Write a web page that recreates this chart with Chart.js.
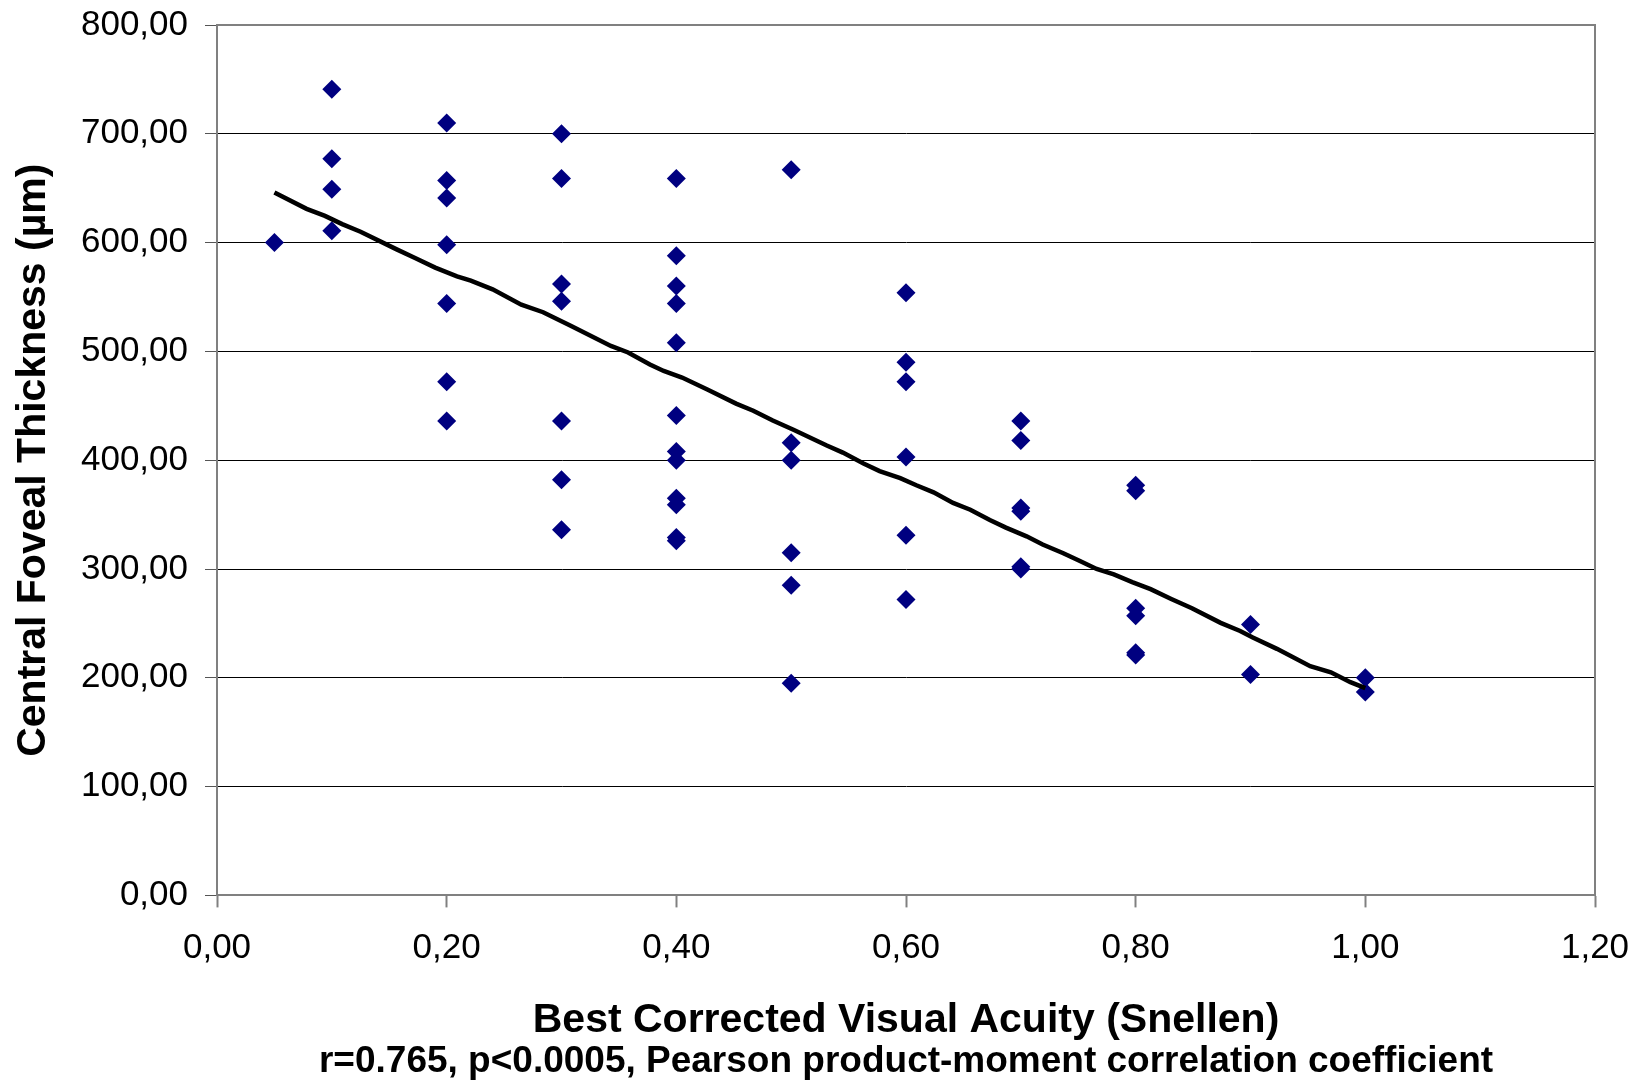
<!DOCTYPE html>
<html lang="en">
<head>
    <meta charset="UTF-8">
    <title>Central Foveal Thickness vs Best Corrected Visual Acuity</title>
    <style>
        body {
            margin: 0;
            background-color: #fff;
        }

        #wrap {
            width: 1646px;
            height: 1084px;
        }
    </style>
</head>
<body>
    <div id="wrap">
        <canvas id="cftChart" width="1646" height="1084"></canvas>
    </div>

    <script src="https://cdn.jsdelivr.net/npm/chart.js"></script>
    <script>
        // Best corrected visual acuity (Snellen, decimal) per eye
        const bcva = [
            0.05,
            0.1, 0.1, 0.1, 0.1,
            0.2, 0.2, 0.2, 0.2, 0.2, 0.2, 0.2,
            0.3, 0.3, 0.3, 0.3, 0.3, 0.3, 0.3,
            0.4, 0.4, 0.4, 0.4, 0.4, 0.4, 0.4, 0.4, 0.4, 0.4, 0.4, 0.4,
            0.5, 0.5, 0.5, 0.5, 0.5, 0.5,
            0.6, 0.6, 0.6, 0.6, 0.6, 0.6,
            0.7, 0.7, 0.7, 0.7, 0.7, 0.7,
            0.8, 0.8, 0.8, 0.8, 0.8, 0.8,
            0.9, 0.9,
            1.0, 1.0
        ];

        // Central foveal thickness (µm) per eye, same order
        const cft = [
            600,
            741, 677, 649, 611,
            710, 657, 641, 598, 544, 472, 436,
            700, 659, 562, 546, 436, 382, 336,
            659, 588, 560, 544, 508, 441, 408, 400, 365, 359, 329, 326,
            667, 416, 400, 315, 285, 195,
            554, 490, 472, 403, 331, 272,
            436, 418, 356, 353, 302, 300,
            377, 372, 264, 257, 223, 221,
            249, 203,
            200, 187
        ];

        // Trend line
        const trendX = [
            0.05, 0.078, 0.094, 0.109, 0.125, 0.156, 0.172, 0.19, 0.209, 0.221,
            0.24, 0.265, 0.284, 0.308, 0.343, 0.358, 0.377, 0.389, 0.405, 0.427,
            0.452, 0.467, 0.484, 0.502, 0.531, 0.545, 0.563, 0.577, 0.595, 0.609,
            0.624, 0.641, 0.656, 0.673, 0.687, 0.705, 0.719, 0.737, 0.751, 0.766,
            0.781, 0.797, 0.813, 0.831, 0.849, 0.874, 0.891, 0.902, 0.923, 0.952,
            0.97, 0.987, 1.0
        ];
        const trendY = [
            646, 631, 624.5, 617, 610, 594, 586, 577, 569, 565,
            557, 543, 536, 523.5, 505, 499, 488, 482, 476, 465,
            452, 445.5, 436.5, 428, 413.5, 407, 397, 390, 383.5, 377,
            370.5, 360.7, 354.5, 345, 338, 330, 322.5, 314.5, 307.5, 300,
            295, 288, 281.5, 272.5, 264, 250.5, 243, 237, 226.6, 210.7,
            205, 196, 190.5
        ];

        const xTickLabels = ['0,00', '0,20', '0,40', '0,60', '0,80', '1,00', '1,20'];
        const yTickLabels = ['0,00', '100,00', '200,00', '300,00', '400,00',
                             '500,00', '600,00', '700,00', '800,00'];

        const FONT = "'Liberation Sans', Arial, sans-serif";

        // gray frame on top and right of the plot area
        const framePlugin = {
            id: 'frame',
            beforeDatasetsDraw(chart) {
                const { ctx, chartArea: a } = chart;
                ctx.save();
                ctx.strokeStyle = '#808080';
                ctx.lineWidth = 2;
                ctx.beginPath();
                ctx.moveTo(a.left, a.top);
                ctx.lineTo(a.right, a.top);
                ctx.lineTo(a.right, a.bottom);
                ctx.stroke();
                ctx.restore();
            }
        };

        const ctx = document.getElementById('cftChart').getContext('2d');
        new Chart(ctx, {
            type: 'scatter',
            data: {
                datasets: [
                    {
                        label: 'CFT',
                        data: bcva.map((x, i) => ({ x: x, y: cft[i] })),
                        pointStyle: 'rectRot',
                        pointRadius: 9.5,
                        backgroundColor: '#000080',
                        borderWidth: 0,
                        order: 2
                    },
                    {
                        label: 'Trend',
                        type: 'line',
                        data: trendX.map((x, i) => ({ x: x, y: trendY[i] })),
                        borderColor: '#000',
                        borderWidth: 4.5,
                        pointRadius: 0,
                        fill: false,
                        tension: 0,
                        order: 1
                    }
                ]
            },
            options: {
                responsive: false,
                animation: false,
                layout: {
                    padding: { top: 25, right: 51, left: 0, bottom: 0 }
                },
                plugins: {
                    legend: { display: false },
                    tooltip: { enabled: false },
                    title: {
                        display: true,
                        position: 'bottom',
                        fullSize: false,
                        text: 'r=0.765, p<0.0005, Pearson product-moment correlation coefficient',
                        color: '#000',
                        font: { family: FONT, size: 37, weight: 'bold', lineHeight: 1.2 },
                        padding: { top: 0, bottom: 0 }
                    }
                },
                scales: {
                    x: {
                        type: 'linear',
                        min: 0,
                        max: 1.2,
                        afterFit(scale) {
                            scale.height = 144.2;
                            scale.paddingLeft = 0;
                            scale.paddingRight = 0;
                        },
                        ticks: {
                            stepSize: 0.2,
                            padding: 20,
                            color: '#000',
                            font: { family: FONT, size: 35 },
                            callback: (v, i) => xTickLabels[i]
                        },
                        grid: {
                            drawOnChartArea: false,
                            drawTicks: true,
                            tickLength: 12,
                            tickColor: '#808080',
                            tickWidth: 2
                        },
                        border: { color: '#808080', width: 2 },
                        title: {
                            display: true,
                            text: 'Best Corrected Visual Acuity (Snellen)',
                            color: '#000',
                            font: { family: FONT, size: 41, weight: 'bold', lineHeight: 0.9 },
                            padding: { top: 0, bottom: 0 }
                        }
                    },
                    y: {
                        min: 0,
                        max: 800,
                        afterFit(scale) {
                            scale.width = 217;
                            scale.paddingTop = 0;
                            scale.paddingBottom = 0;
                        },
                        ticks: {
                            stepSize: 100,
                            padding: 17,
                            color: '#000',
                            font: { family: FONT, size: 35 },
                            callback: (v, i) => yTickLabels[i]
                        },
                        grid: {
                            color: c => (c.tick && (c.tick.value === 0 || c.tick.value === 800)) ? 'rgba(0,0,0,0)' : '#000',
                            lineWidth: 1,
                            drawTicks: true,
                            tickLength: 12,
                            tickColor: '#555',
                            tickWidth: 1
                        },
                        border: { color: '#808080', width: 2 },
                        title: {
                            display: true,
                            text: 'Central Foveal Thickness (\u00b5m)',
                            color: '#000',
                            font: { family: FONT, size: 41, weight: 'bold', lineHeight: 1.2 },
                            padding: { top: 9, bottom: 0 }
                        }
                    }
                }
            },
            plugins: [framePlugin]
        });
    </script>
</body>
</html>
